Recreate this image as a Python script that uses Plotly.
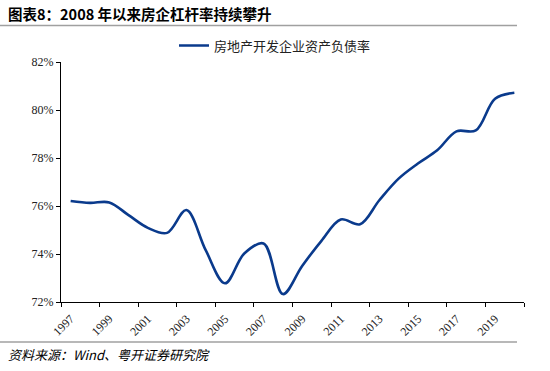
import plotly.graph_objects as go

years = list(range(1997, 2021))
debt_ratio = [76.21, 76.13, 76.15, 75.62, 75.09, 74.88, 75.83, 74.16, 72.78, 74.02,
              74.44, 72.33, 73.5, 74.55, 75.44, 75.24, 76.24, 77.14, 77.77, 78.32,
              79.11, 79.15, 80.47, 80.72]
tick_years = list(range(1997, 2020, 2))
tick_labels = [str(y) for y in tick_years]
boundaries = [y - 0.5 for y in range(1997, 2022, 2)]

series_name = "房地产开发企业资产负债率"
title_text = "图表8：2008 年以来房企杠杆率持续攀升"
source_text = "资料来源：Wind、粤开证券研究院"

W, H = 550, 371
L, R, T, B = 61, 524, 61.5, 302
pw, ph = R - L, B - T

def px(x):
    return (x - L) / pw

def py(y):
    return (B - y) / ph

line_color = "#0A3A8C"

fig = go.Figure()
fig.add_trace(go.Scatter(
    x=years, y=debt_ratio, mode="lines", name=series_name,
    line=dict(color=line_color, width=2.6, shape="spline", smoothing=1.0),
))

serif = "Liberation Serif, Times New Roman, serif"
cjk = "Noto Sans CJK SC, sans-serif"

fig.update_layout(
    width=W, height=H,
    margin=dict(l=L, r=W - R, t=T, b=H - B, pad=0, autoexpand=False),
    paper_bgcolor="white", plot_bgcolor="white",
    showlegend=True,
    legend=dict(orientation="h", x=px(275), y=py(45), xanchor="center", yanchor="middle",
                font=dict(family=cjk, size=13, color="#222"), bgcolor="rgba(0,0,0,0)"),
    xaxis=dict(
        range=[1996.5, 2020.5], showgrid=False, zeroline=False, automargin=False,
        showline=True, linecolor="black", linewidth=1,
        tickmode="array", tickvals=tick_years, ticktext=tick_labels,
        ticks="outside", ticklen=0, tickangle=-45, ticklabelstandoff=4,
        tickfont=dict(family=serif, size=12, color="#222"),
        minor=dict(tickmode="array", tickvals=boundaries, ticks="outside",
                   ticklen=4, tickcolor="black", tickwidth=1, showgrid=False),
    ),
    yaxis=dict(
        range=[72, 82], dtick=2, tick0=72, showgrid=False, zeroline=False, automargin=False,
        showline=True, linecolor="black", linewidth=1,
        ticks="outside", ticklen=4, tickcolor="black", ticksuffix="%",
        tickfont=dict(family=serif, size=12, color="#222"),
    ),
)

fig.add_annotation(
    xref="paper", yref="paper", x=px(6), y=py(13), xanchor="left", yanchor="middle",
    text="<b>" + title_text + "</b>", showarrow=False,
    font=dict(family=cjk, size=14.5, color="black"),
)
fig.add_annotation(
    xref="paper", yref="paper", x=px(6), y=py(355), xanchor="left", yanchor="middle",
    text="<i>" + source_text + "</i>", showarrow=False,
    font=dict(family=cjk, size=13, color="black"),
)
for yy in (25, 342):
    fig.add_shape(type="line", xref="paper", yref="paper",
                  x0=px(0), x1=px(517), y0=py(yy), y1=py(yy),
                  line=dict(color="#A0A0A0", width=1.5))

fig.write_html(
    "out.html",
    config={"displayModeBar": False},
    post_script="document.body.style.margin='0';document.body.style.overflow='hidden';",
)
